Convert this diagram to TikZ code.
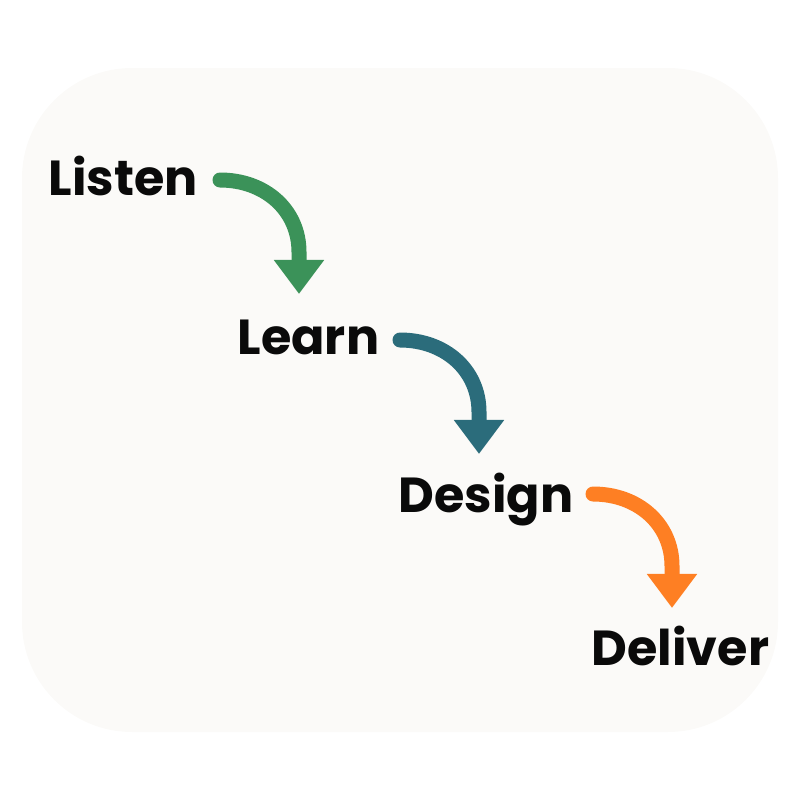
\documentclass[tikz,border=0pt]{standalone}
\usepackage{fontspec}
\setmainfont{Poppins}
\usepackage{tikz}
\usetikzlibrary{arrows.meta,positioning,calc}
\usepackage{xcolor}
\definecolor{panel}{RGB}{251,250,248}
\definecolor{stepgreen}{RGB}{59,146,89}
\definecolor{stepteal}{RGB}{43,108,123}
\definecolor{steporange}{RGB}{254,127,35}
\definecolor{wordink}{RGB}{10,10,10}

\begin{document}
\begin{tikzpicture}[x=0.01cm, y=-0.01cm,
  stepword/.style={anchor=base west, inner sep=0pt, text=wordink,
    font=\fontsize{14pt}{17pt}\selectfont\bfseries},
  flowarrow/.style={line width=0.15cm, line cap=round,
    -{Triangle[width=0.48cm, length=0.34cm]}}]
\useasboundingbox (0,0) rectangle (800,800);
\fill[panel, rounded corners=1.1cm] (22,68) rectangle (778,732);

\node[stepword] (listen)  at (48,195)  {Listen};
\node[stepword] (learn)   at (237,354) {Learn};
\node[stepword] (design)  at (398,512) {Design};
\node[stepword] (deliver) at (591,665) {Deliver};

% curved arrows between the steps
\foreach \sx/\sy/\col [count=\i] in {220/180/stepgreen, 400/340/stepteal, 593/494/steporange}
{
  \coordinate (s\i) at (\sx,\sy);
  \coordinate (t\i) at (\sx+79,\sy+114);
  \draw[flowarrow, \col] (s\i) .. controls ($(s\i)+(45,0)$) and ($(s\i)+(79,30)$)
    .. ($(s\i)+(79,72)$) -- (t\i);
}
\end{tikzpicture}
\end{document}
